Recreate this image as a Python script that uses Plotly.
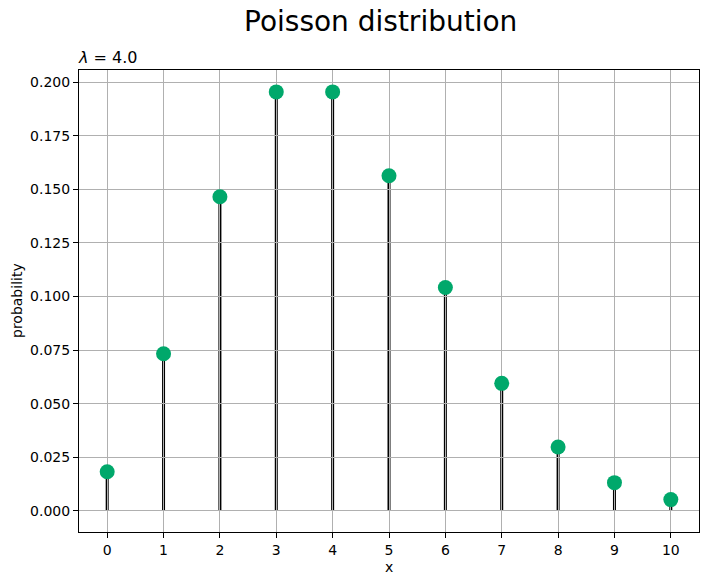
import plotly.graph_objects as go

x_vals = [0, 1, 2, 3, 4, 5, 6, 7, 8, 9, 10]
probs = [0.0183, 0.0733, 0.1465, 0.1954, 0.1954, 0.1563, 0.1042, 0.0595, 0.0298, 0.0132, 0.0053]
y_ticks = [0.0, 0.025, 0.05, 0.075, 0.1, 0.125, 0.15, 0.175, 0.2]
y_tick_labels = ["0.000", "0.025", "0.050", "0.075", "0.100", "0.125", "0.150", "0.175", "0.200"]

FONT = "DejaVu Sans"
L, R, T, B = 79, 10, 70, 53
W, H = 709, 585
PW, PH = W - L - R, H - T - B

fig = go.Figure()

fig.add_trace(go.Scatter(
    x=x_vals, y=probs, mode="markers",
    marker=dict(color="#00A86B", size=15, line=dict(width=0)),
    showlegend=False, cliponaxis=False,
))

shapes = []
for xv, p in zip(x_vals, probs):
    shapes.append(dict(type="line", xref="x", yref="y", x0=xv, x1=xv, y0=0, y1=p,
                       line=dict(color="black", width=3), layer="below"))

fig.update_layout(
    width=W, height=H,
    margin=dict(l=L, r=R, t=T, b=B, autoexpand=False),
    paper_bgcolor="white", plot_bgcolor="white",
    font=dict(family=FONT, size=14, color="black"),
    shapes=shapes,
    annotations=[
        dict(text="Poisson distribution", x=(380 - L) / PW, xref="paper",
             y=1 + (T - 22) / PH, yref="paper",
             showarrow=False, font=dict(size=28, family=FONT), xanchor="center", yanchor="middle"),
        dict(text="<i>λ</i> = 4.0", x=0, xref="paper", y=1, yref="paper",
             showarrow=False, font=dict(size=16, family=FONT), xanchor="left", yanchor="bottom",
             yshift=1, xshift=-3),
        dict(text="x", x=(389 - L) / PW, xref="paper", y=-(567 - (T + PH)) / PH, yref="paper",
             showarrow=False, font=dict(size=14, family=FONT), xanchor="center", yanchor="middle"),
        dict(text="probability", x=-(L - 17) / PW, xref="paper", y=0.5, yref="paper",
             showarrow=False, font=dict(size=14, family=FONT), xanchor="center", yanchor="middle",
             textangle=-90),
    ],
    xaxis=dict(
        range=[-0.5, 10.5], tickmode="array", tickvals=x_vals, ticktext=[str(v) for v in x_vals],
        showgrid=True, gridcolor="#b0b0b0", gridwidth=1.1, zeroline=False,
        showline=True, linecolor="black", linewidth=1.1, mirror=True,
        ticks="outside", ticklen=5, tickwidth=1.1, tickcolor="black",
        automargin=False, tickfont=dict(size=14),
    ),
    yaxis=dict(
        range=[-0.0098, 0.2056], tickmode="array", tickvals=y_ticks, ticktext=y_tick_labels,
        showgrid=True, gridcolor="#b0b0b0", gridwidth=1.1, zeroline=False,
        showline=True, linecolor="black", linewidth=1.1, mirror=True,
        ticks="outside", ticklen=5, tickwidth=1.1, tickcolor="black",
        automargin=False, tickfont=dict(size=14),
    ),
)

fig.write_html("out.html", config={"displayModeBar": False},
               post_script="document.body.style.margin='0';")
